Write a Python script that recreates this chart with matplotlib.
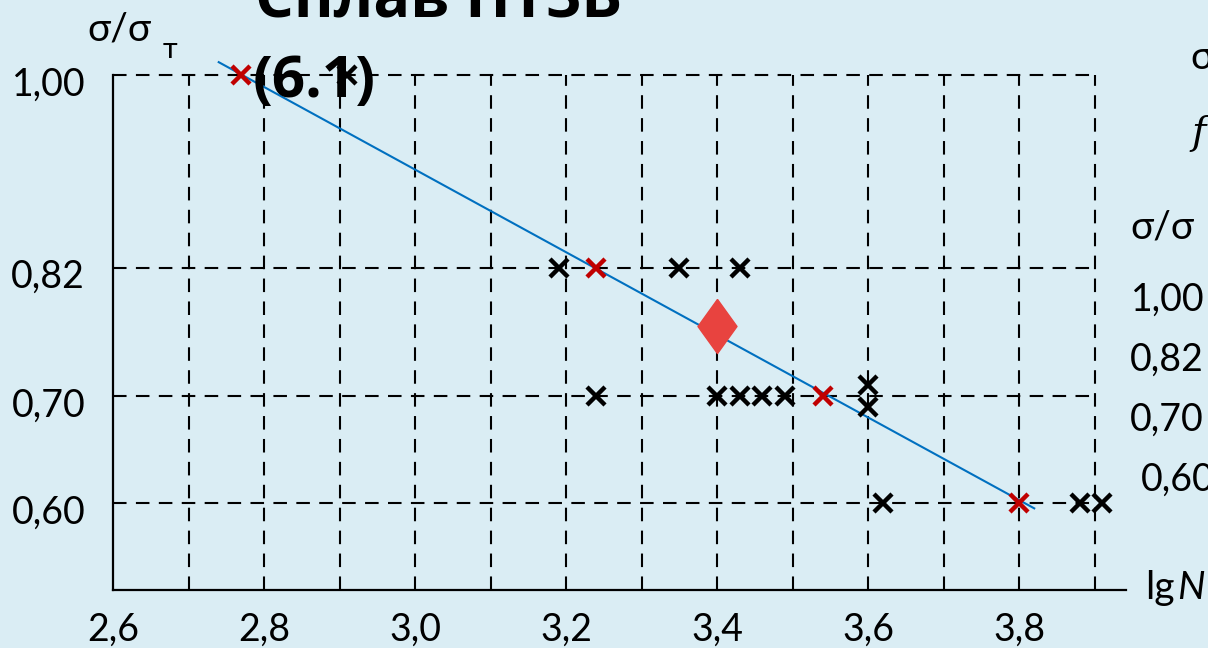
import matplotlib.pyplot as plt
import matplotlib.transforms as mtransforms
import numpy as np

# Data (lgN vs sigma/sigma_T)
black_x = [2.91, 3.19, 3.35, 3.43, 3.24, 3.40, 3.43, 3.46, 3.49, 3.60, 3.60, 3.62, 3.88, 3.91]
black_y = [1.00, 0.82, 0.82, 0.82, 0.70, 0.70, 0.70, 0.70, 0.70, 0.71, 0.69, 0.60, 0.60, 0.60]
red_x = [2.77, 3.24, 3.54, 3.80]
red_y = [1.00, 0.82, 0.70, 0.60]
fit_x = [2.74, 3.82]
fit_y = [1.012, 0.595]
mean_x = [3.40]
mean_y = [0.765]

xgrid = [2.7, 2.8, 2.9, 3.0, 3.1, 3.2, 3.3, 3.4, 3.5, 3.6, 3.7, 3.8, 3.9]
xticks = [2.6, 2.8, 3.0, 3.2, 3.4, 3.6, 3.8]
xtick_labels = ['2,6', '2,8', '3,0', '3,2', '3,4', '3,6', '3,8']
yticks = [0.60, 0.70, 0.82, 1.00]
ytick_labels = ['0,60', '0,70', '0,82', '1,00']

bg = '#daedf4'
fam = ['Lato', 'Open Sans', 'DejaVu Sans']
plt.rcParams['font.family'] = fam

fig = plt.figure(figsize=(12.08, 6.48), dpi=100)
fig.patch.set_facecolor(bg)
ax = fig.add_axes([113 / 1208, 58 / 648, 1013 / 1208, 515 / 648])
ax.set_facecolor(bg)
ax.set_xlim(2.6, 3.9415)
ax.set_ylim(0.5187, 1.0)

# dashed grid
dash = (0, (6.5, 4.5))
ax.hlines(yticks, 2.6, 3.9, colors='black', linestyles=dash, linewidth=1.5, clip_on=False, zorder=1)
ax.vlines(xgrid, 0.5187, 1.0, colors='black', linestyles=dash, linewidth=1.5, clip_on=False, zorder=1)

# spines
for s in ['top', 'right']:
    ax.spines[s].set_visible(False)
ax.spines['left'].set_linewidth(1.6)
ax.spines['bottom'].set_linewidth(1.6)
ax.spines['left'].set_zorder(2)
ax.spines['bottom'].set_zorder(2)

ax.plot(fit_x, fit_y, color='#0070c0', linewidth=1.5, clip_on=False, zorder=3)
ax.plot(black_x, black_y, 'x', color='black', markersize=13, mew=3.2, clip_on=False, zorder=4)
ax.plot(red_x, red_y, 'x', color='#c00000', markersize=13, mew=3.2, clip_on=False, zorder=4)

diamond = [(0, 1), (0.72, 0), (0, -1), (-0.72, 0), (0, 1)]
ax.plot(mean_x, mean_y, marker=diamond, color='#e8433f', markersize=39, linestyle='none', zorder=5)

ax.set_xticks(xticks)
ax.set_xticklabels(xtick_labels)
ax.set_yticks(yticks)
ax.set_yticklabels(ytick_labels)
ax.tick_params(length=0, labelsize=27, colors='black')
ax.tick_params(axis='x', pad=16)
ax.tick_params(axis='y', pad=20)
offset = mtransforms.ScaledTranslation(0, -6 / 100, fig.dpi_scale_trans)
for lab in ax.get_yticklabels():
    lab.set_transform(lab.get_transform() + offset)

# title (cut at the top of the slide)
fig.text(255 / 1208, 1 - 17 / 648, 'Сплав ПТ3В', fontsize=44, fontweight='bold', family='Open Sans', ha='left', va='baseline')
fig.text(253 / 1208, 1 - 97 / 648, '(6.1)', fontsize=42, fontweight='bold', family='Open Sans', ha='left', va='baseline')

# axis labels
fig.text(87 / 1208, 1 - 30 / 648, 'σ/σ', fontsize=28, ha='left', va='center')
fig.text(163 / 1208, 1 - 50 / 648, 'т', fontsize=21, ha='left', va='center')
fig.text(1145 / 1208, 1 - 588 / 648, 'lg', fontsize=28, ha='left', va='center')
fig.text(1177 / 1208, 1 - 588 / 648, 'N', fontsize=28, style='italic', ha='left', va='center')

# fragments of the neighbouring text block on the slide
fig.text(1190 / 1208, 1 - 58 / 648, 'σ', fontsize=28, ha='left', va='center')
fig.text(1191 / 1208, 1 - 133 / 648, 'f', fontsize=28, style='italic', family='DejaVu Serif', ha='left', va='center')
fig.text(1130 / 1208, 1 - 227 / 648, 'σ/σ', fontsize=28, ha='left', va='center')
side_vals = ['1,00', '0,82', '0,70', '0,60']
side_pos = [(1131, 300), (1130, 360), (1130, 420), (1141, 480)]
for v, (px, py) in zip(side_vals, side_pos):
    fig.text(px / 1208, 1 - py / 648, v, fontsize=27, ha='left', va='center')

fig.savefig('out.png', dpi=100, facecolor=bg)
